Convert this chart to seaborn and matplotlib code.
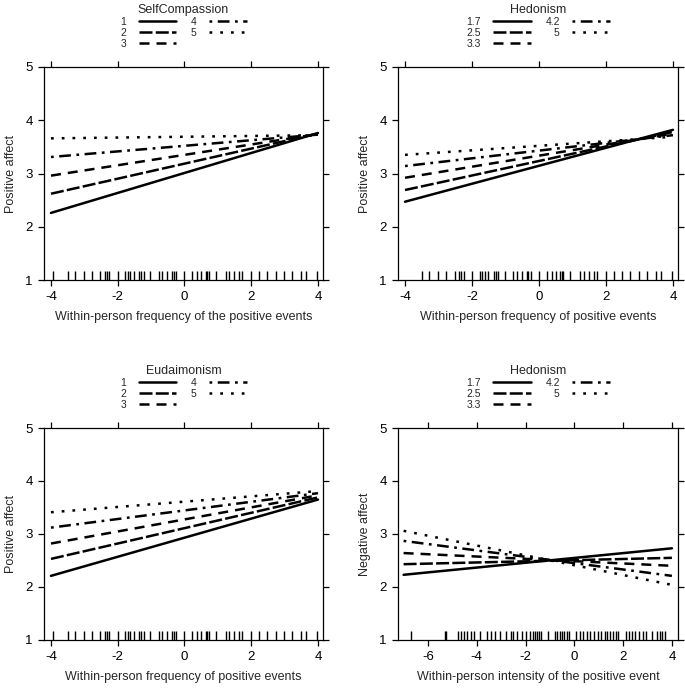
import numpy as np
import pandas as pd
import matplotlib
matplotlib.use("Agg")
import matplotlib.pyplot as plt
import seaborn as sns

sns.set_style("ticks")
plt.rcParams["font.family"] = ["Liberation Sans", "DejaVu Sans"]
plt.rcParams["axes.unicode_minus"] = False

# data
sc_levels = ["1", "2", "3", "4", "5"]
hed_levels = ["1.7", "2.5", "3.3", "4.2", "5"]

freq_x = [-4, 4]
sc_start = [2.26, 2.62, 2.96, 3.31, 3.66]
sc_end = [3.76, 3.75, 3.74, 3.73, 3.72]

hed1_start = [2.47, 2.69, 2.92, 3.14, 3.35]
hed1_end = [3.82, 3.78, 3.75, 3.72, 3.69]

eud_start = [2.21, 2.53, 2.82, 3.12, 3.41]
eud_end = [3.65, 3.69, 3.73, 3.77, 3.81]

int_x = [-7, 4]
hed2_start = [2.23, 2.43, 2.64, 2.87, 3.06]
hed2_end = [2.73, 2.55, 2.40, 2.21, 2.04]

freq_rug = [-3.95, -3.5, -3.27, -3.02, -2.77, -2.52, -2.39, -2.32, -2.25, -2.0,
            -1.77, -1.7, -1.62, -1.52, -1.35, -1.29, -1.22, -1.02, -0.77, -0.67,
            -0.52, -0.37, -0.32, -0.24, 0.0, 0.23, 0.38, 0.5, 0.63, 0.68, 0.73,
            0.93, 1.23, 1.33, 1.48, 1.63, 1.73, 2.0, 2.23, 2.48, 2.73, 2.98,
            3.23, 3.48, 3.63, 3.98]
freq_rug2 = freq_rug[1:]
int_rug = [-6.71, -5.3, -5.25, -4.75, -4.63, -4.52, -4.4, -4.25, -4.1, -3.85,
           -3.6, -3.4, -3.25, -3.05, -2.8, -2.6, -2.5, -2.35, -2.15, -2.0, -1.8,
           -1.7, -1.62, -1.55, -1.45, -1.35, -1.1, -0.8, -0.7, -0.6, -0.5,
           -0.42, -0.3, -0.2, 0.05, 0.25, 0.35, 0.5, 0.65, 0.8, 0.95, 1.1, 1.25,
           1.35, 1.45, 1.6, 1.7, 1.8, 2.1, 2.25, 2.35, 2.5, 2.65, 2.8, 2.95,
           3.2, 3.4, 3.5, 3.6, 3.7]

dash_list = ["", (5.2, 1.3), (4, 2.8), (1.1, 2.2, 4.7, 2.2), (1.1, 3.2)]


def make_df(xs, starts, ends, levels):
    rows = []
    for lev, a, b in zip(levels, starts, ends):
        rows.append({"x": xs[0], "y": a, "level": lev})
        rows.append({"x": xs[1], "y": b, "level": lev})
    return pd.DataFrame(rows)


def panel(ax, df, levels, title, rug, xlabel, ylabel, xlim, xticks):
    sns.lineplot(data=df, x="x", y="y", style="level", style_order=levels,
                 dashes=dash_list, color="black", lw=1.8, legend=False, ax=ax)
    handles = list(ax.lines[:5])
    sns.rugplot(x=rug, ax=ax, height=0.042, color="black", lw=0.9)
    ax.set_xlim(*xlim)
    ax.set_ylim(1, 5)
    ax.set_xticks(xticks)
    ax.set_yticks([1, 2, 3, 4, 5])
    ax.set_xlabel(xlabel, fontsize=9, labelpad=6)
    ax.set_ylabel(ylabel, fontsize=9, labelpad=6)
    ax.tick_params(direction="out", length=4.5, width=0.9, top=True, right=True,
                   labeltop=False, labelright=False, labelsize=9.5, colors="black")
    for s in ax.spines.values():
        s.set_color("black")
        s.set_linewidth(0.9)
    leg = ax.legend(handles=handles, labels=levels, ncol=2, title=title,
                    loc="lower center", bbox_to_anchor=(0.5, 1.055), frameon=False,
                    markerfirst=False, fontsize=7.5, title_fontsize=9,
                    handlelength=3.6, handletextpad=1.2, columnspacing=1.4,
                    labelspacing=0.1, borderpad=0.1)
    leg._legend_box.align = "center"


fig = plt.figure(figsize=(6.85, 6.9), dpi=100)
ax1 = fig.add_axes([0.0642, 0.5942, 0.4073, 0.3087])
ax2 = fig.add_axes([0.581, 0.5942, 0.4088, 0.3087])
ax3 = fig.add_axes([0.0642, 0.0725, 0.4073, 0.3072])
ax4 = fig.add_axes([0.581, 0.0725, 0.4088, 0.3072])

panel(ax1, make_df(freq_x, sc_start, sc_end, sc_levels), sc_levels, "SelfCompassion",
      freq_rug, "Within-person frequency of the positive events", "Positive affect",
      (-4.21, 4.15), [-4, -2, 0, 2, 4])
panel(ax2, make_df(freq_x, hed1_start, hed1_end, hed_levels), hed_levels, "Hedonism",
      freq_rug2, "Within-person frequency of positive events", "Positive affect",
      (-4.21, 4.15), [-4, -2, 0, 2, 4])
panel(ax3, make_df(freq_x, eud_start, eud_end, sc_levels), sc_levels, "Eudaimonism",
      freq_rug, "Within-person frequency of positive events", "Positive affect",
      (-4.21, 4.15), [-4, -2, 0, 2, 4])
panel(ax4, make_df(int_x, hed2_start, hed2_end, hed_levels), hed_levels, "Hedonism",
      int_rug, "Within-person intensity of the positive event", "Negative affect",
      (-7.23, 4.25), [-6, -4, -2, 0, 2, 4])

fig.savefig("out.png", dpi=100)
